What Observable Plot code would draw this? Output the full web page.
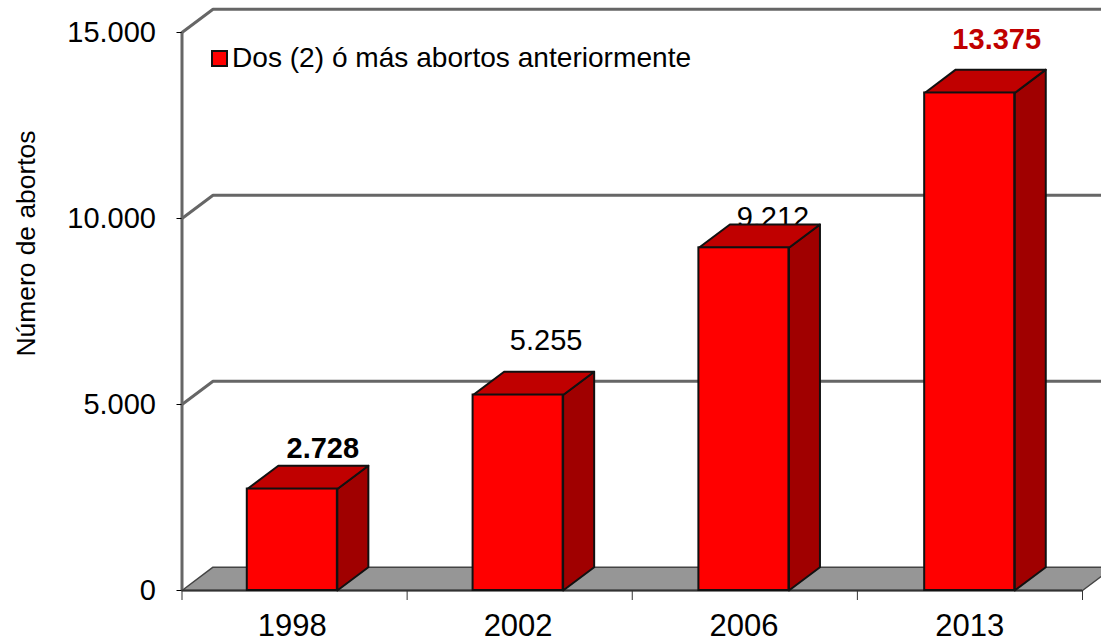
<!DOCTYPE html>
<html><head><meta charset="utf-8">
<script src="https://cdn.jsdelivr.net/npm/d3@7"></script>
<script src="https://cdn.jsdelivr.net/npm/@observablehq/plot@0.6"></script>
<style>
html,body{margin:0;padding:0;background:#fff;overflow:hidden;width:1101px;height:644px}
#wrap{position:relative;width:1101px;height:644px;font-family:"Liberation Sans",Arial,sans-serif}
#legend{position:absolute;left:211px;top:43px;display:flex;align-items:center;font-size:28.1px;color:#000;line-height:30px;white-space:nowrap}
#legend i{display:block;width:13px;height:13px;background:#f00;border:2px solid #111;margin-right:4px}
</style></head><body><div id="wrap"><div id="legend"><i></i><span>Dos (2) ó más abortos anteriormente</span></div></div>
<script>
const years = ["1998","2002","2006","2013"];
const abortos = [2728,5255,9212,13375];
const yTicks = [0,5000,10000,15000];
const xTicks = [0,1,2,3,4];
const seriesName = "Dos (2) ó más abortos anteriormente";
const yTitle = "Número de abortos";

const depthX = 0.1378, depthY = 626, half = 0.2, slot = 0.49, pitch = 1.003;
const fmt = v => d3.format(",")(v).replace(/,/g,".");
const cx = i => i * pitch + slot;

const sideFaces = abortos.flatMap((v,i)=>[
  {i,x:cx(i)+half,y:0},{i,x:cx(i)+half+depthX,y:depthY},{i,x:cx(i)+half+depthX,y:v+depthY},{i,x:cx(i)+half,y:v}]);
const topFaces = abortos.flatMap((v,i)=>[
  {i,x:cx(i)-half,y:v},{i,x:cx(i)-half+depthX,y:v+depthY},{i,x:cx(i)+half+depthX,y:v+depthY},{i,x:cx(i)+half,y:v}]);
const grid = yTicks.slice(1).flatMap(v=>[{v,x:0,y:v},{v,x:depthX,y:v+depthY},{v,x:5,y:v+depthY}]);
const floor = [{x:0,y:0},{x:depthX,y:depthY},{x:4+depthX,y:depthY},{x:4,y:0}];

const labelStyles = [
  {dx:30.5,dy:-40,fontWeight:"bold",fill:"#000"},
  {dx:28,dy:-54,fontWeight:"normal",fill:"#000"},
  {dx:29,dy:-30,fontWeight:"normal",fill:"#000"},
  {dx:27,dy:-53,fontWeight:"bold",fill:"#c00000"}
];

const chart = Plot.plot({
  width:1101,height:644,
  marginLeft:181.5,marginRight:19,marginTop:32,marginBottom:54,
  style:{fontFamily:'"Liberation Sans",Arial,sans-serif',overflow:"hidden",background:"transparent",color:"#000"},
  x:{type:"linear",domain:[0,4]},
  y:{type:"linear",domain:[0,15000]},
  marks:[
    Plot.line(floor,{x:"x",y:"y",curve:"linear-closed",fill:"#969696",stroke:"#444",strokeWidth:1.5}),
    Plot.line(grid,{x:"x",y:"y",z:"v",stroke:"#666",strokeWidth:3}),
    Plot.ruleX([0],{y1:0,y2:15000,stroke:"#666",strokeWidth:3}),
    Plot.ruleY([0],{stroke:"#333",strokeWidth:2}),
    Plot.axisY({ticks:yTicks,tickFormat:fmt,tickSize:5,tickPadding:21,fontSize:29,label:null,stroke:"#000"}),
    Plot.axisX({ticks:xTicks,tickFormat:()=>"",tickSize:10,label:null,stroke:"#333"}),
    Plot.axisX({ticks:[0,1,2,3].map(cx),tickFormat:(d)=>years[Math.round((d-slot)/pitch)],tickSize:0,tickPadding:23.5,fontSize:31,label:null}),
    Plot.text([yTitle],{frameAnchor:"left",rotate:-90,dx:-155.5,dy:45,fontSize:26.4,fill:"#000"}),
    ...abortos.map((v,i)=>Plot.text([v],{x:()=>cx(i),y:d=>d,text:fmt,fontSize:29,...labelStyles[i]})),
    Plot.line(sideFaces,{x:"x",y:"y",z:"i",curve:"linear-closed",fill:"#a00000",stroke:"#111",strokeWidth:2}),
    Plot.line(topFaces,{x:"x",y:"y",z:"i",curve:"linear-closed",fill:"#c00000",stroke:"#111",strokeWidth:2}),
    Plot.rect(abortos,{x1:(d,i)=>cx(i)-half,x2:(d,i)=>cx(i)+half,y1:0,y2:d=>d,fill:"#ff0000",stroke:"#111",strokeWidth:2})
  ]
});
document.getElementById("wrap").prepend(chart);
</script></body></html>
